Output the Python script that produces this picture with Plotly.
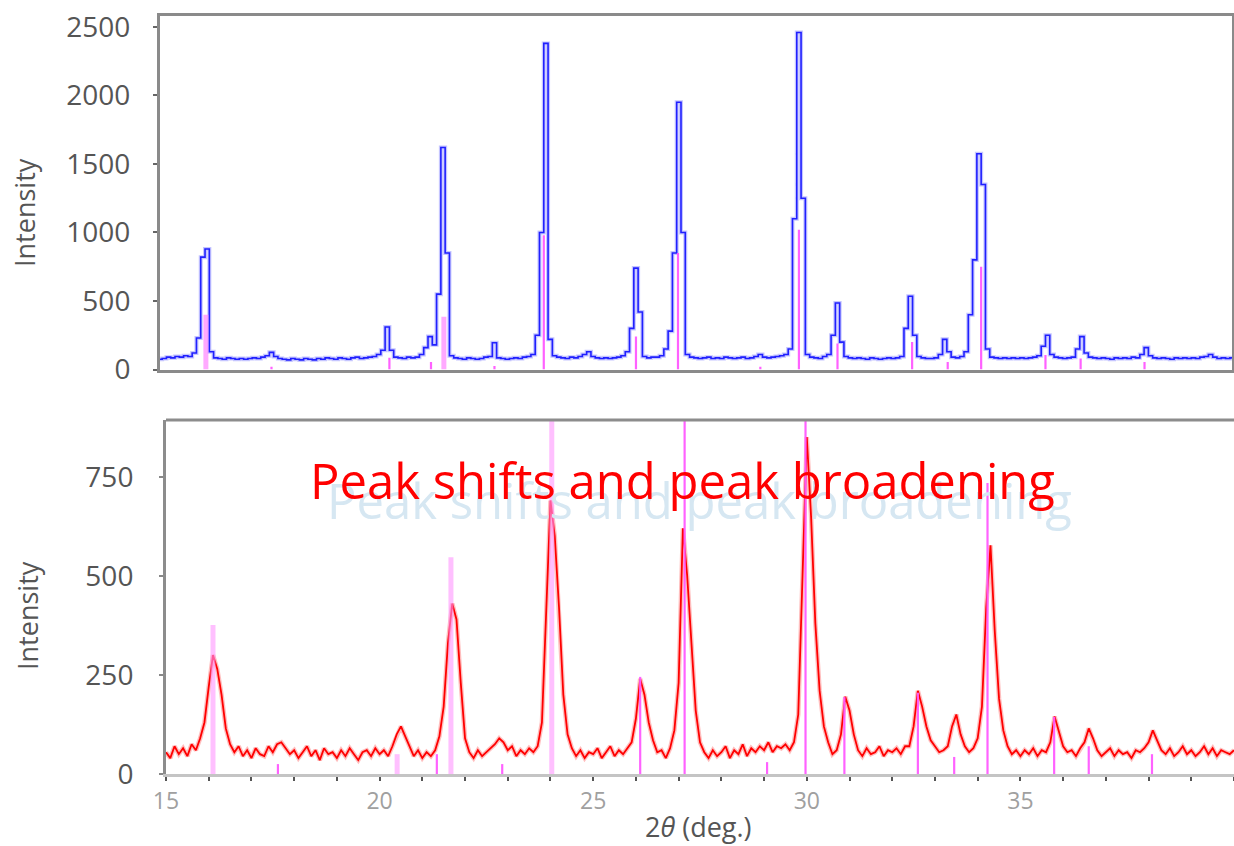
import numpy as np
import plotly.graph_objects as go

# ---------------- data ----------------
# 2-theta measurement grid (deg), step 0.1
two_theta = np.round(np.arange(15.0, 40.0001, 0.1), 1)

# top pattern (blue) intensities, one row per degree (x.0 ... x.9)
top_intensity = [
    75, 80, 90, 85, 95, 90, 100, 95, 120, 230,        # 15
    820, 880, 130, 85, 80, 75, 85, 80, 75, 80,        # 16
    75, 80, 85, 80, 90, 100, 125, 95, 80, 75,         # 17
    70, 80, 75, 70, 80, 75, 70, 80, 75, 85,           # 18
    80, 75, 85, 80, 75, 85, 90, 80, 85, 90,           # 19
    95, 110, 140, 310, 140, 90, 85, 80, 90, 85,       # 20
    90, 110, 160, 240, 180, 550, 1620, 850, 100, 85,  # 21
    80, 75, 85, 80, 75, 80, 90, 95, 195, 85,          # 22
    80, 75, 80, 85, 80, 90, 95, 110, 250, 1000,       # 23
    2380, 220, 100, 90, 85, 80, 90, 85, 95, 110,      # 24
    130, 95, 85, 80, 85, 80, 85, 90, 100, 130,        # 25
    300, 740, 420, 95, 85, 90, 90, 100, 150, 280,     # 26
    850, 1950, 1000, 110, 90, 85, 80, 85, 90, 80,     # 27
    85, 80, 90, 85, 80, 85, 90, 80, 85, 95,           # 28
    110, 90, 85, 90, 95, 100, 110, 150, 1100, 2460,   # 29
    1250, 110, 90, 85, 80, 95, 110, 250, 485, 200,    # 30
    95, 85, 80, 85, 80, 75, 85, 80, 75, 80,           # 31
    85, 80, 85, 95, 300, 535, 250, 95, 85, 80,        # 32
    80, 85, 110, 220, 130, 90, 85, 95, 130, 400,      # 33
    800, 1575, 1350, 150, 90, 85, 80, 85, 80, 85,     # 34
    80, 85, 80, 85, 90, 100, 170, 250, 110, 90,       # 35
    85, 80, 85, 90, 150, 240, 120, 90, 85, 80,        # 36
    85, 80, 75, 85, 80, 85, 80, 90, 85, 110,          # 37
    160, 100, 85, 80, 85, 80, 75, 85, 80, 85,         # 38
    80, 85, 80, 90, 95, 110, 90, 80, 85, 80,          # 39
    85,                                               # 40
]

# bottom pattern (red) intensities
bottom_intensity = [
    55, 40, 70, 50, 65, 45, 75, 60, 90, 130,          # 15
    220, 300, 265, 200, 115, 75, 55, 70, 45, 60,      # 16
    40, 65, 50, 45, 70, 55, 75, 80, 65, 50,           # 17
    60, 40, 55, 70, 45, 60, 35, 65, 50, 55,           # 18
    40, 60, 45, 65, 50, 35, 55, 60, 45, 65,           # 19
    50, 60, 45, 70, 100, 120, 95, 70, 45, 60,         # 20
    40, 55, 45, 60, 95, 170, 330, 430, 390, 230,      # 21
    90, 55, 40, 60, 45, 55, 65, 75, 90, 80,           # 22
    60, 70, 45, 60, 50, 65, 55, 70, 130, 420,         # 23
    690, 600, 420, 200, 100, 65, 45, 60, 40, 55,      # 24
    50, 65, 40, 55, 70, 45, 60, 50, 65, 80,           # 25
    140, 240, 200, 130, 85, 55, 60, 40, 65, 110,      # 26
    230, 620, 500, 330, 160, 80, 55, 40, 60, 45,      # 27
    55, 70, 40, 60, 50, 75, 45, 65, 55, 70,           # 28
    60, 80, 55, 70, 65, 75, 60, 80, 150, 500,         # 29
    850, 650, 380, 210, 120, 80, 50, 60, 100, 195,    # 30
    160, 100, 60, 45, 65, 50, 55, 70, 45, 60,         # 31
    55, 65, 50, 70, 70, 120, 210, 170, 120, 85,       # 32
    70, 55, 60, 70, 120, 150, 100, 70, 55, 65,        # 33
    90, 170, 420, 577, 360, 190, 110, 70, 50, 60,     # 34
    45, 60, 50, 65, 45, 60, 55, 80, 145, 110,         # 35
    70, 55, 60, 45, 65, 80, 115, 90, 60, 45,          # 36
    55, 65, 45, 60, 50, 55, 40, 60, 55, 65,           # 37
    80, 110, 85, 60, 50, 65, 45, 55, 70, 50,          # 38
    60, 45, 55, 70, 50, 65, 45, 60, 55, 50,           # 39
    60,                                               # 40
]

# reference stick patterns
top_strong_pos = [16.07, 21.62]
top_strong_int = [400, 385]
top_thin_pos = [17.6, 20.35, 21.32, 22.8, 23.95, 26.1, 27.08, 29.0, 29.9, 30.8,
                32.54, 33.37, 34.15, 35.65, 36.47, 37.96]
top_thin_int = [20, 85, 55, 25, 980, 240, 850, 20, 1020, 190,
                200, 55, 750, 105, 80, 55]

bot_strong_pos = [16.10, 20.41, 21.67, 24.03]
bot_strong_int = [376, 50, 547, 1000]
bot_thin_pos = [17.62, 21.34, 22.87, 26.10, 27.14, 29.07, 29.97, 30.88, 32.60, 33.45,
                34.23, 35.79, 36.60, 38.08]
bot_thin_int = [25, 50, 25, 245, 1000, 30, 1000, 194, 205, 43,
                734, 144, 70, 50]

x_ticks = list(range(15, 41))
x_ticktext = [str(v) if v % 5 == 0 else "" for v in x_ticks]
top_yticks = [0, 500, 1000, 1500, 2000, 2500]
bot_yticks = [0, 250, 500, 750]

title_text = "Peak shifts and peak broadening"
y_title = "Intensity"
x_title = "2<i>θ</i> (deg.)"

# ---------------- figure ----------------
W, H = 1234, 846
FONT = "Open Sans"


def sticks(pos, inten):
    xs, ys = [], []
    for p, h in zip(pos, inten):
        xs += [p, p, None]
        ys += [0, h, None]
    return xs, ys


fig = go.Figure()

# top panel spectrum
fig.add_trace(go.Scatter(x=two_theta, y=top_intensity, mode="lines",
                         line=dict(color="rgba(110,110,255,0.4)", width=4, shape="hvh"),
                         hoverinfo="skip", showlegend=False, xaxis="x", yaxis="y"))
fig.add_trace(go.Scatter(x=two_theta, y=top_intensity, mode="lines",
                         line=dict(color="#2020ff", width=1.6, shape="hvh"),
                         showlegend=False, xaxis="x", yaxis="y"))
sx, sy = sticks(top_strong_pos, top_strong_int)
fig.add_trace(go.Scatter(x=sx, y=sy, mode="lines",
                         line=dict(color="rgba(255,140,255,0.75)", width=5),
                         showlegend=False, xaxis="x", yaxis="y"))
sx, sy = sticks(top_thin_pos, top_thin_int)
fig.add_trace(go.Scatter(x=sx, y=sy, mode="lines",
                         line=dict(color="rgba(255,80,255,0.9)", width=2.2),
                         showlegend=False, xaxis="x", yaxis="y"))

# bottom panel spectrum
fig.add_trace(go.Scatter(x=two_theta, y=bottom_intensity, mode="lines",
                         line=dict(color="rgba(255,110,110,0.45)", width=4.5),
                         hoverinfo="skip", showlegend=False, xaxis="x2", yaxis="y2"))
fig.add_trace(go.Scatter(x=two_theta, y=bottom_intensity, mode="lines",
                         line=dict(color="#ff0000", width=1.8),
                         showlegend=False, xaxis="x2", yaxis="y2"))
sx, sy = sticks(bot_strong_pos, bot_strong_int)
fig.add_trace(go.Scatter(x=sx, y=sy, mode="lines",
                         line=dict(color="rgba(255,150,255,0.6)", width=5),
                         showlegend=False, xaxis="x2", yaxis="y2"))
sx, sy = sticks(bot_thin_pos, bot_thin_int)
fig.add_trace(go.Scatter(x=sx, y=sy, mode="lines",
                         line=dict(color="rgba(255,90,255,0.95)", width=2.2),
                         showlegend=False, xaxis="x2", yaxis="y2"))

top_dom_x = [160 / W, 1232 / W]
top_dom_y = [(H - 369.5) / H, (H - 16) / H]
bot_dom_x = [166 / W, 1.0]
bot_dom_y = [(H - 774) / H, (H - 420) / H]

fig.update_layout(
    width=W, height=H,
    margin=dict(l=0, r=0, t=0, b=0, autoexpand=False),
    paper_bgcolor="white", plot_bgcolor="white",
    font=dict(family=FONT, color="#555555"),
    showlegend=False,
    xaxis=dict(domain=top_dom_x, range=[15, 40], showticklabels=False, ticks="",
               showgrid=False, zeroline=False, showline=True, linecolor="#8a8a8a",
               linewidth=3, mirror=True, anchor="y", automargin=False),
    yaxis=dict(domain=top_dom_y, range=[0, 2580], tickvals=top_yticks,
               ticks="outside", ticklen=4, tickcolor="#666666", tickwidth=1.5,
               ticklabelstandoff=17, automargin=False,
               tickfont=dict(size=28, color="#555555", family=FONT),
               showgrid=False, zeroline=False, showline=True, linecolor="#8a8a8a",
               linewidth=3, mirror=True, anchor="x"),
    xaxis2=dict(domain=bot_dom_x, range=[15, 40], tickmode="array",
                tickvals=x_ticks, ticktext=x_ticktext, automargin=False,
                ticks="outside", ticklen=4, tickcolor="#555555", tickwidth=2,
                tickfont=dict(size=23, color="#a0a0a0", family=FONT),
                showgrid=False, zeroline=False, showline=True, linecolor="#c4c4c4",
                linewidth=3, mirror=False, anchor="y2"),
    yaxis2=dict(domain=bot_dom_y, range=[0, 893], tickvals=bot_yticks,
                ticks="outside", ticklen=4, tickcolor="#888888", tickwidth=1.5,
                ticklabelstandoff=20, automargin=False,
                tickfont=dict(size=28, color="#555555", family=FONT),
                showgrid=False, zeroline=False, showline=True, linecolor="#8c8c8c",
                linewidth=3, mirror=False, anchor="x2"),
)

# top border line of bottom panel
fig.add_shape(type="line", xref="x2 domain", yref="y2 domain", x0=0, x1=1, y0=1, y1=1,
              line=dict(color="#8c8c8c", width=3), layer="above")

# annotations
fig.add_annotation(text=title_text, xref="paper", yref="paper",
                   x=(682 + 17) / W, y=1 - (480 + 20) / H, showarrow=False,
                   font=dict(size=49, color="#d6e7f2", family=FONT),
                   xanchor="center", yanchor="middle")
fig.add_annotation(text=title_text, xref="paper", yref="paper",
                   x=682 / W, y=1 - 480 / H, showarrow=False,
                   font=dict(size=49, color="#ff0000", family=FONT),
                   xanchor="center", yanchor="middle")
fig.add_annotation(text=y_title, xref="paper", yref="paper",
                   x=25 / W, y=1 - 213 / H, showarrow=False, textangle=-90,
                   font=dict(size=27, color="#555555", family=FONT),
                   xanchor="center", yanchor="middle")
fig.add_annotation(text=y_title, xref="paper", yref="paper",
                   x=27 / W, y=1 - 616 / H, showarrow=False, textangle=-90,
                   font=dict(size=27, color="#555555", family=FONT),
                   xanchor="center", yanchor="middle")
fig.add_annotation(text=x_title, xref="paper", yref="paper",
                   x=698 / W, y=1 - 826 / H, showarrow=False,
                   font=dict(size=27, color="#555555", family=FONT),
                   xanchor="center", yanchor="middle")

fig.write_html("out.html")
